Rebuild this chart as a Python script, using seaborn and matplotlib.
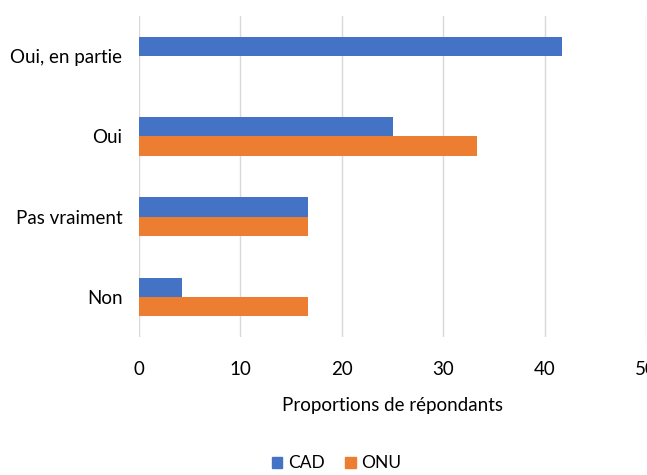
import pandas as pd
import matplotlib
matplotlib.use("Agg")
import matplotlib.pyplot as plt
import seaborn as sns

categories = ["Oui, en partie", "Oui", "Pas vraiment", "Non"]
cad = [41.7, 25.0, 16.7, 4.2]
onu = [0.0, 33.3, 16.7, 16.7]
series = ["CAD", "ONU"]
colors = ["#4472C4", "#ED7D31"]

df = pd.DataFrame({
    "Categorie": categories * 2,
    "Valeur": cad + onu,
    "Serie": ["CAD"] * len(categories) + ["ONU"] * len(categories),
})

sns.set_theme(style="white")
plt.rcParams["font.family"] = ["Lato", "DejaVu Sans"]
plt.rcParams["text.color"] = "#000000"
plt.rcParams["axes.labelcolor"] = "#000000"

fig = plt.figure(figsize=(6.47, 4.75), dpi=100)
ax = fig.add_axes([0.215, 0.29, 0.7835, 0.677])

sns.barplot(data=df, x="Valeur", y="Categorie", hue="Serie", order=categories,
            hue_order=series, palette=colors, width=0.48, saturation=1,
            linewidth=0, orient="h", ax=ax, legend=False)

ax.set_xlim(0, 50)
ax.set_xticks(range(0, 51, 10))
ax.grid(axis="x", color="#d9d9d9", linewidth=1)
ax.set_axisbelow(True)
for s in ax.spines.values():
    s.set_visible(False)
ax.tick_params(axis="both", length=0, labelsize=13.5, colors="#000000", pad=12)
ax.tick_params(axis="x", pad=17)
ax.set_ylabel("")
ax.set_xlabel("Proportions de répondants", fontsize=13.5, labelpad=14)

handles = [plt.Rectangle((0, 0), 1, 1, color=c) for c in colors]
fig.legend(handles, series, loc="lower center", bbox_to_anchor=(0.52, -0.025), ncol=2,
           frameon=False, fontsize=12.5, handlelength=0.6, handleheight=0.6,
           handletextpad=0.3, columnspacing=1.2)

fig.savefig("out.png", dpi=100)
